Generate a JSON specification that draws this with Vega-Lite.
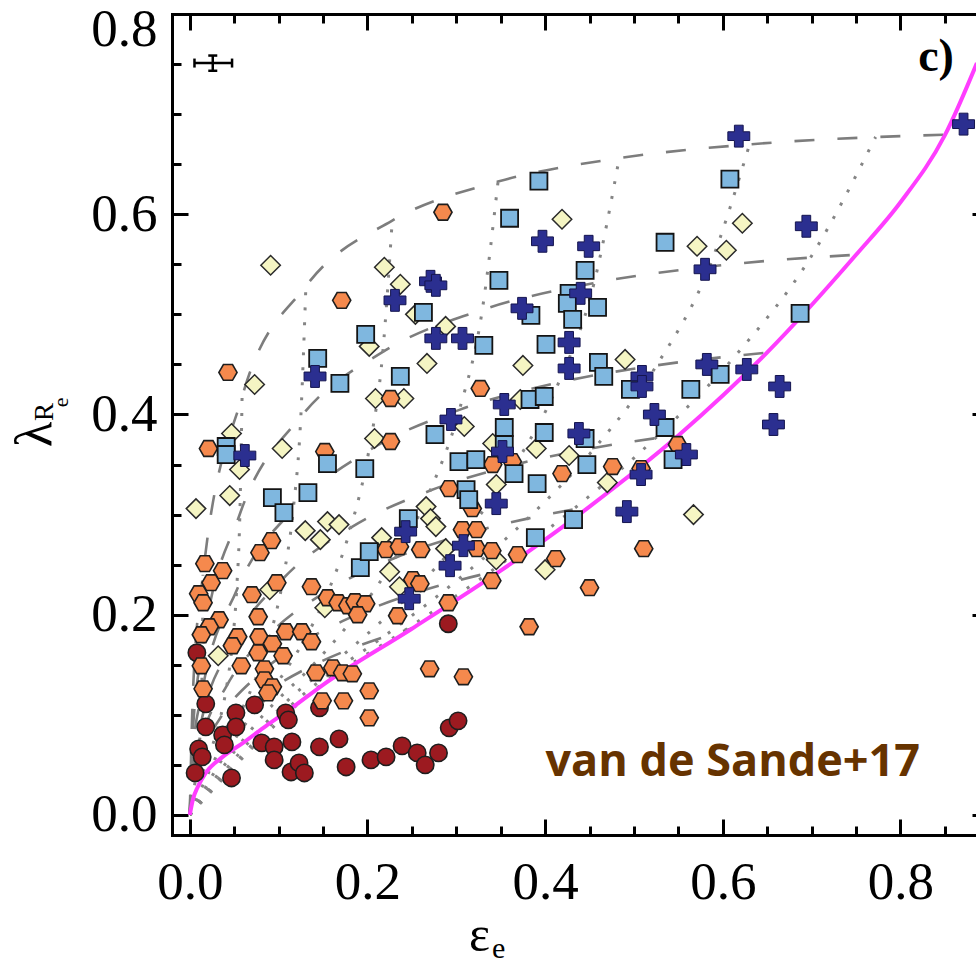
{
"$schema": "https://vega.github.io/schema/vega-lite/v6.json",
"width": 804, "height": 821,
"autosize": {"type": "none"},
"padding": {"left": 172, "top": 14, "right": 0, "bottom": 130},
"background": "white",
"config": {
  "view": {"stroke": null},
  "axis": {"domainColor": "black", "domainWidth": 3, "domainCap": "square", "tickColor": "black", "tickWidth": 3, "tickCap": "butt",
           "labelFont": "Liberation Serif", "labelFontSize": 53, "labelColor": "black", "grid": false,
           "labelOverlap": false, "labelFlush": false, "labelBound": false,
           "titleFont": "Liberation Serif", "titleFontWeight": "normal", "titleColor": "black"}
},
"datasets": {
  "dashed": [
    {"g":"85","e":0,"l":0},{"g":"85","e":0.0037,"l":0.1251},{"g":"85","e":0.0149,"l":0.24},{"g":"85","e":0.0589,"l":0.4177},{"g":"85","e":0.1307,"l":0.5282},{"g":"85","e":0.2279,"l":0.5937},{"g":"85","e":0.347,"l":0.6326},{"g":"85","e":0.4834,"l":0.656},{"g":"85","e":0.6301,"l":0.6698},{"g":"85","e":0.772,"l":0.6771},{"g":"85","e":0.85,"l":0.6794},
    {"g":"75","e":0,"l":0},{"g":"75","e":0.0036,"l":0.085},{"g":"75","e":0.0142,"l":0.165},{"g":"75","e":0.0564,"l":0.3006},{"g":"75","e":0.125,"l":0.3977},{"g":"75","e":0.2173,"l":0.4625},{"g":"75","e":0.3293,"l":0.5045},{"g":"75","e":0.4551,"l":0.5313},{"g":"75","e":0.5851,"l":0.5478},{"g":"75","e":0.6987,"l":0.5567},{"g":"75","e":0.75,"l":0.5595},
    {"g":"65","e":0,"l":0},{"g":"65","e":0.0033,"l":0.0613},{"g":"65","e":0.0133,"l":0.12},{"g":"65","e":0.0527,"l":0.2243},{"g":"65","e":0.1165,"l":0.3053},{"g":"65","e":0.2016,"l":0.364},{"g":"65","e":0.3035,"l":0.4046},{"g":"65","e":0.4153,"l":0.4319},{"g":"65","e":0.5255,"l":0.4491},{"g":"65","e":0.614,"l":0.4586},{"g":"65","e":0.65,"l":0.4617},
    {"g":"55","e":0,"l":0},{"g":"55","e":0.003,"l":0.0455},{"g":"55","e":0.0121,"l":0.0896},{"g":"55","e":0.0478,"l":0.1701},{"g":"55","e":0.1052,"l":0.2362},{"g":"55","e":0.1812,"l":0.2869},{"g":"55","e":0.2706,"l":0.324},{"g":"55","e":0.3661,"l":0.3499},{"g":"55","e":0.4561,"l":0.3668},{"g":"55","e":0.524,"l":0.3763},{"g":"55","e":0.55,"l":0.3793},
    {"g":"45","e":0,"l":0},{"g":"45","e":0.0027,"l":0.034},{"g":"45","e":0.0106,"l":0.0673},{"g":"45","e":0.0417,"l":0.1292},{"g":"45","e":0.0914,"l":0.1821},{"g":"45","e":0.1563,"l":0.2245},{"g":"45","e":0.2314,"l":0.2569},{"g":"45","e":0.3094,"l":0.2803},{"g":"45","e":0.3802,"l":0.296},{"g":"45","e":0.4312,"l":0.305},{"g":"45","e":0.45,"l":0.3079},
    {"g":"35","e":0,"l":0},{"g":"35","e":0.0022,"l":0.0253},{"g":"35","e":0.0087,"l":0.0501},{"g":"35","e":0.0344,"l":0.0969},{"g":"35","e":0.075,"l":0.1382},{"g":"35","e":0.1274,"l":0.1725},{"g":"35","e":0.1869,"l":0.1996},{"g":"35","e":0.2471,"l":0.2198},{"g":"35","e":0.3,"l":0.2337},{"g":"35","e":0.3367,"l":0.2418},{"g":"35","e":0.35,"l":0.2444},
    {"g":"25","e":0,"l":0},{"g":"25","e":0.0017,"l":0.0182},{"g":"25","e":0.0066,"l":0.0361},{"g":"25","e":0.0259,"l":0.0703},{"g":"25","e":0.0563,"l":0.1012},{"g":"25","e":0.0949,"l":0.1276},{"g":"25","e":0.1379,"l":0.1491},{"g":"25","e":0.1803,"l":0.1656},{"g":"25","e":0.2166,"l":0.1771},{"g":"25","e":0.2413,"l":0.184},{"g":"25","e":0.25,"l":0.1862}
  ],
  "dotted": [
    {"g":"i10","e":0,"l":0},{"g":"i10","e":0.0042,"l":0.024},{"g":"i10","e":0.0066,"l":0.0361},{"g":"i10","e":0.0087,"l":0.0501},{"g":"i10","e":0.0106,"l":0.0673},{"g":"i10","e":0.0121,"l":0.0896},{"g":"i10","e":0.0133,"l":0.12},{"g":"i10","e":0.0142,"l":0.165},{"g":"i10","e":0.0149,"l":0.24},
    {"g":"i20","e":0,"l":0},{"g":"i20","e":0.0164,"l":0.047},{"g":"i20","e":0.0259,"l":0.0703},{"g":"i20","e":0.0344,"l":0.0969},{"g":"i20","e":0.0417,"l":0.1292},{"g":"i20","e":0.0478,"l":0.1701},{"g":"i20","e":0.0527,"l":0.2243},{"g":"i20","e":0.0564,"l":0.3006},{"g":"i20","e":0.0589,"l":0.4177},
    {"g":"i30","e":0,"l":0},{"g":"i30","e":0.0353,"l":0.0681},{"g":"i30","e":0.0563,"l":0.1012},{"g":"i30","e":0.075,"l":0.1382},{"g":"i30","e":0.0914,"l":0.1821},{"g":"i30","e":0.1052,"l":0.2362},{"g":"i30","e":0.1165,"l":0.3053},{"g":"i30","e":0.125,"l":0.3977},{"g":"i30","e":0.1307,"l":0.5282},
    {"g":"i40","e":0,"l":0},{"g":"i40","e":0.0591,"l":0.0866},{"g":"i40","e":0.0949,"l":0.1276},{"g":"i40","e":0.1274,"l":0.1725},{"g":"i40","e":0.1563,"l":0.2245},{"g":"i40","e":0.1812,"l":0.2869},{"g":"i40","e":0.2016,"l":0.364},{"g":"i40","e":0.2173,"l":0.4625},{"g":"i40","e":0.2279,"l":0.5937},
    {"g":"i50","e":0,"l":0},{"g":"i50","e":0.085,"l":0.102},{"g":"i50","e":0.1379,"l":0.1491},{"g":"i50","e":0.1869,"l":0.1996},{"g":"i50","e":0.2314,"l":0.2569},{"g":"i50","e":0.2706,"l":0.324},{"g":"i50","e":0.3035,"l":0.4046},{"g":"i50","e":0.3293,"l":0.5045},{"g":"i50","e":0.347,"l":0.6326},
    {"g":"i60","e":0,"l":0},{"g":"i60","e":0.1101,"l":0.1142},{"g":"i60","e":0.1803,"l":0.1656},{"g":"i60","e":0.2471,"l":0.2198},{"g":"i60","e":0.3094,"l":0.2803},{"g":"i60","e":0.3661,"l":0.3499},{"g":"i60","e":0.4153,"l":0.4319},{"g":"i60","e":0.4551,"l":0.5313},{"g":"i60","e":0.4834,"l":0.656},
    {"g":"i70","e":0,"l":0},{"g":"i70","e":0.1311,"l":0.1229},{"g":"i70","e":0.2166,"l":0.1771},{"g":"i70","e":0.3,"l":0.2337},{"g":"i70","e":0.3802,"l":0.296},{"g":"i70","e":0.4561,"l":0.3668},{"g":"i70","e":0.5255,"l":0.4491},{"g":"i70","e":0.5851,"l":0.5478},{"g":"i70","e":0.6301,"l":0.6698},
    {"g":"i80","e":0,"l":0},{"g":"i80","e":0.1451,"l":0.1281},{"g":"i80","e":0.2413,"l":0.184},{"g":"i80","e":0.3367,"l":0.2418},{"g":"i80","e":0.4312,"l":0.305},{"g":"i80","e":0.524,"l":0.3763},{"g":"i80","e":0.614,"l":0.4586},{"g":"i80","e":0.6987,"l":0.5567},{"g":"i80","e":0.772,"l":0.6771}
  ],
  "magenta": [
    {"e":0,"l":0},{"e":0.0034,"l":0.015},{"e":0.009,"l":0.028},{"e":0.018,"l":0.042},{"e":0.037,"l":0.058},{"e":0.06,"l":0.072},{"e":0.086,"l":0.089},{"e":0.112,"l":0.105},{"e":0.15,"l":0.13},{"e":0.25,"l":0.186},{"e":0.35,"l":0.244},{"e":0.4,"l":0.275},{"e":0.45,"l":0.308},{"e":0.55,"l":0.379},{"e":0.65,"l":0.462},{"e":0.75,"l":0.5595},{"e":0.8,"l":0.612},{"e":0.85,"l":0.679},{"e":0.886,"l":0.751}
  ],
  "circles": [
    {"e":0.291,"l":0.191},{"e":0.008,"l":0.162},{"e":0.018,"l":0.111},{"e":0.018,"l":0.088},{"e":0.010,"l":0.066},{"e":0.014,"l":0.058},{"e":0.006,"l":0.042},{"e":0.037,"l":0.080},{"e":0.039,"l":0.070},{"e":0.052,"l":0.102},{"e":0.052,"l":0.088},{"e":0.047,"l":0.037},{"e":0.073,"l":0.110},{"e":0.081,"l":0.072},{"e":0.095,"l":0.068},{"e":0.095,"l":0.055},{"e":0.108,"l":0.102},{"e":0.111,"l":0.095},{"e":0.115,"l":0.073},{"e":0.114,"l":0.043},{"e":0.123,"l":0.052},{"e":0.129,"l":0.042},{"e":0.146,"l":0.068},{"e":0.146,"l":0.107},{"e":0.168,"l":0.076},{"e":0.176,"l":0.048},{"e":0.204,"l":0.055},{"e":0.221,"l":0.058},{"e":0.239,"l":0.069},{"e":0.256,"l":0.062},{"e":0.265,"l":0.050},{"e":0.280,"l":0.062},{"e":0.292,"l":0.087},{"e":0.302,"l":0.094}
  ],
  "diamonds": [
    {"e":0.091,"l":0.549},{"e":0.219,"l":0.547},{"e":0.237,"l":0.530},{"e":0.202,"l":0.468},{"e":0.288,"l":0.488},{"e":0.267,"l":0.451},{"e":0.073,"l":0.430},{"e":0.209,"l":0.416},{"e":0.241,"l":0.416},{"e":0.309,"l":0.388},{"e":0.047,"l":0.381},{"e":0.208,"l":0.376},{"e":0.056,"l":0.345},{"e":0.104,"l":0.366},{"e":0.254,"l":0.500},
    {"e":0.419,"l":0.595},{"e":0.571,"l":0.568},{"e":0.604,"l":0.564},{"e":0.622,"l":0.591},{"e":0.375,"l":0.449},{"e":0.490,"l":0.455},{"e":0.372,"l":0.415},{"e":0.341,"l":0.371},{"e":0.390,"l":0.366},{"e":0.427,"l":0.359},{"e":0.345,"l":0.330},{"e":0.470,"l":0.332},
    {"e":0.007,"l":0.306},{"e":0.045,"l":0.319},{"e":0.130,"l":0.284},{"e":0.147,"l":0.275},{"e":0.155,"l":0.293},{"e":0.168,"l":0.290},{"e":0.090,"l":0.225},{"e":0.152,"l":0.207},{"e":0.032,"l":0.159},{"e":0.236,"l":0.228},{"e":0.225,"l":0.243},{"e":0.216,"l":0.277},{"e":0.266,"l":0.308},{"e":0.271,"l":0.296},{"e":0.277,"l":0.288},{"e":0.288,"l":0.266},{"e":0.345,"l":0.255},
    {"e":0.567,"l":0.300},{"e":0.400,"l":0.245}
  ],
  "hexes": [
    {"e":0.285,"l":0.602},{"e":0.171,"l":0.514},{"e":0.043,"l":0.442},{"e":0.226,"l":0.416},{"e":0.226,"l":0.373},{"e":0.021,"l":0.366},{"e":0.152,"l":0.363},
    {"e":0.327,"l":0.426},{"e":0.549,"l":0.370},{"e":0.341,"l":0.350},{"e":0.363,"l":0.353},{"e":0.476,"l":0.348},{"e":0.508,"l":0.346},{"e":0.419,"l":0.341},
    {"e":0.092,"l":0.274},{"e":0.079,"l":0.262},{"e":0.017,"l":0.251},{"e":0.037,"l":0.244},{"e":0.024,"l":0.232},{"e":0.010,"l":0.221},{"e":0.015,"l":0.212},{"e":0.098,"l":0.232},{"e":0.070,"l":0.220},{"e":0.137,"l":0.228},{"e":0.155,"l":0.217},{"e":0.167,"l":0.212},{"e":0.178,"l":0.209},{"e":0.186,"l":0.213},{"e":0.198,"l":0.211},{"e":0.189,"l":0.200},{"e":0.033,"l":0.195},{"e":0.022,"l":0.188},{"e":0.013,"l":0.180},{"e":0.077,"l":0.198},{"e":0.054,"l":0.178},{"e":0.048,"l":0.169},{"e":0.078,"l":0.178},{"e":0.077,"l":0.162},{"e":0.093,"l":0.171},{"e":0.108,"l":0.183},{"e":0.126,"l":0.183},{"e":0.137,"l":0.173},{"e":0.105,"l":0.159},{"e":0.013,"l":0.149},{"e":0.058,"l":0.149},{"e":0.084,"l":0.146},{"e":0.084,"l":0.135},{"e":0.093,"l":0.128},{"e":0.088,"l":0.122},{"e":0.015,"l":0.126},{"e":0.142,"l":0.142},{"e":0.161,"l":0.147},{"e":0.172,"l":0.142},{"e":0.183,"l":0.141},{"e":0.202,"l":0.124},{"e":0.149,"l":0.114},{"e":0.173,"l":0.114},{"e":0.202,"l":0.097},{"e":0.270,"l":0.146},{"e":0.308,"l":0.138},{"e":0.291,"l":0.212},{"e":0.234,"l":0.199},{"e":0.340,"l":0.234},{"e":0.251,"l":0.235},{"e":0.259,"l":0.231},{"e":0.221,"l":0.265},{"e":0.236,"l":0.268},{"e":0.260,"l":0.265},{"e":0.292,"l":0.326},{"e":0.318,"l":0.306},{"e":0.307,"l":0.285},{"e":0.323,"l":0.285},{"e":0.323,"l":0.266},{"e":0.340,"l":0.264},
    {"e":0.511,"l":0.266},{"e":0.369,"l":0.260},{"e":0.412,"l":0.256},{"e":0.450,"l":0.227},{"e":0.382,"l":0.188}
  ],
  "squares": [
    {"e":0.263,"l":0.502},{"e":0.198,"l":0.480},{"e":0.144,"l":0.456},{"e":0.169,"l":0.431},{"e":0.237,"l":0.438},{"e":0.276,"l":0.380},{"e":0.041,"l":0.368},{"e":0.041,"l":0.360},{"e":0.155,"l":0.351},{"e":0.197,"l":0.346},{"e":0.303,"l":0.353},
    {"e":0.393,"l":0.633},{"e":0.608,"l":0.635},{"e":0.360,"l":0.596},{"e":0.535,"l":0.572},{"e":0.445,"l":0.544},{"e":0.348,"l":0.534},{"e":0.427,"l":0.521},{"e":0.425,"l":0.511},{"e":0.459,"l":0.507},{"e":0.384,"l":0.499},{"e":0.431,"l":0.495},{"e":0.331,"l":0.469},{"e":0.401,"l":0.470},{"e":0.460,"l":0.452},{"e":0.466,"l":0.438},{"e":0.496,"l":0.425},{"e":0.564,"l":0.425},{"e":0.597,"l":0.440},{"e":0.383,"l":0.415},{"e":0.399,"l":0.418},{"e":0.354,"l":0.387},{"e":0.399,"l":0.382},{"e":0.445,"l":0.376},{"e":0.535,"l":0.387},{"e":0.544,"l":0.355},{"e":0.354,"l":0.370},{"e":0.322,"l":0.355},{"e":0.365,"l":0.341},{"e":0.447,"l":0.350},
    {"e":0.687,"l":0.501},
    {"e":0.093,"l":0.317},{"e":0.106,"l":0.302},{"e":0.133,"l":0.322},{"e":0.192,"l":0.247},{"e":0.202,"l":0.263},{"e":0.246,"l":0.296},{"e":0.311,"l":0.325},{"e":0.314,"l":0.315},
    {"e":0.391,"l":0.331},{"e":0.432,"l":0.295},{"e":0.389,"l":0.277}
  ],
  "pluses": [
    {"e":0.271,"l":0.533},{"e":0.277,"l":0.529},{"e":0.231,"l":0.514},{"e":0.277,"l":0.476},{"e":0.307,"l":0.476},{"e":0.141,"l":0.438},{"e":0.294,"l":0.395},{"e":0.062,"l":0.359},
    {"e":0.397,"l":0.573},{"e":0.449,"l":0.568},{"e":0.580,"l":0.545},{"e":0.440,"l":0.521},{"e":0.374,"l":0.506},{"e":0.427,"l":0.472},{"e":0.427,"l":0.446},{"e":0.509,"l":0.438},{"e":0.509,"l":0.428},{"e":0.582,"l":0.450},{"e":0.627,"l":0.445},{"e":0.354,"l":0.410},{"e":0.438,"l":0.381},{"e":0.523,"l":0.400},{"e":0.559,"l":0.360},{"e":0.352,"l":0.363},{"e":0.508,"l":0.340},
    {"e":0.618,"l":0.678},{"e":0.694,"l":0.588},{"e":0.871,"l":0.690},{"e":0.664,"l":0.428},{"e":0.657,"l":0.390},
    {"e":0.247,"l":0.216},{"e":0.243,"l":0.283},{"e":0.345,"l":0.311},{"e":0.308,"l":0.269},{"e":0.293,"l":0.249},
    {"e":0.492,"l":0.303}
  ]
},
"encoding": {
  "x": {"field": "e", "type": "quantitative", "scale": {"domain": [-0.02, 0.885], "nice": false, "zero": false}, "axis": null},
  "y": {"field": "l", "type": "quantitative", "scale": {"domain": [-0.02, 0.8], "nice": false, "zero": false}, "axis": null}
},
"resolve": {"axis": {"x": "independent", "y": "independent"}},
"layer": [
  {
    "data": {"name": "dashed"},
    "mark": {"type": "line", "stroke": "#7d7d7d", "strokeWidth": 2.6, "strokeDash": [20, 23], "interpolate": "monotone", "clip": true},
    "encoding": {
      "x": {"field": "e", "type": "quantitative", "scale": {"domain": [-0.02, 0.885], "nice": false, "zero": false},
            "axis": {"orient": "bottom", "values": [0,0.05,0.1,0.15,0.2,0.25,0.3,0.35,0.4,0.45,0.5,0.55,0.6,0.65,0.7,0.75,0.8,0.85],
                     "tickSize": {"condition": {"test": "abs(datum.value*5-round(datum.value*5))<0.01", "value": -16}, "value": -9},
                     "labelExpr": "abs(datum.value*5-round(datum.value*5))<0.01 ? format(datum.value,'.1f') : ''",
                     "labelBaseline": "alphabetic", "labelPadding": 79,
                     "title": "ε", "titleFontSize": 50, "titleX": 307, "titleY": 115, "titleBaseline": "alphabetic", "titleAlign": "center", "titleAngle": 0}},
      "y": {"field": "l", "type": "quantitative", "scale": {"domain": [-0.02, 0.8], "nice": false, "zero": false},
            "axis": {"orient": "left", "values": [0,0.05,0.1,0.15,0.2,0.25,0.3,0.35,0.4,0.45,0.5,0.55,0.6,0.65,0.7,0.75,0.8],
                     "tickSize": {"condition": {"test": "abs(datum.value*5-round(datum.value*5))<0.01", "value": -16}, "value": -9},
                     "labelExpr": "abs(datum.value*5-round(datum.value*5))<0.01 ? format(datum.value,'.1f') : ''",
                     "labelAlign": "right", "labelBaseline": "middle", "labelPadding": 31,
                     "labelOffset": {"condition": {"test": "datum.value > 0.79", "value": 15}, "value": 0},
                     "title": "λ", "titleFontSize": 52, "titleAngle": 270, "titleX": -122, "titleY": 420, "titleBaseline": "alphabetic", "titleAlign": "center"}},
      "detail": {"field": "g", "type": "nominal"}
    }
  },
  {
    "data": {"name": "dotted"},
    "mark": {"type": "line", "stroke": "#858585", "strokeWidth": 3, "strokeDash": [3, 12], "strokeCap": "butt", "interpolate": "monotone", "clip": true},
    "encoding": {
      "x": {"field": "e", "type": "quantitative", "scale": {"domain": [-0.02, 0.885], "nice": false, "zero": false},
            "axis": {"orient": "top", "values": [0,0.05,0.1,0.15,0.2,0.25,0.3,0.35,0.4,0.45,0.5,0.55,0.6,0.65,0.7,0.75,0.8,0.85],
                     "tickSize": {"condition": {"test": "abs(datum.value*5-round(datum.value*5))<0.01", "value": -16}, "value": -9},
                     "labels": false, "title": null}},
      "y": {"field": "l", "type": "quantitative", "scale": {"domain": [-0.02, 0.8], "nice": false, "zero": false},
            "axis": {"orient": "right", "values": [0,0.2,0.4,0.6], "tickSize": -16, "offset": 12, "domain": false, "labels": false, "title": null}},
      "detail": {"field": "g", "type": "nominal"}
    }
  },
  {
    "data": {"name": "magenta"},
    "mark": {"type": "line", "stroke": "#ff3dff", "strokeWidth": 4, "interpolate": "monotone", "clip": true},
    "encoding": {}
  },
  {
    "data": {"values": [{"e": 0.0053, "e2": 0.0476, "l": 0.751}]},
    "mark": {"type": "rule", "stroke": "black", "strokeWidth": 2.5},
    "encoding": {"x2": {"field": "e2"}}
  },
  {
    "data": {"values": [{"e": 0.0259, "l": 0.7433, "l2": 0.7585}]},
    "mark": {"type": "rule", "stroke": "black", "strokeWidth": 2.5},
    "encoding": {"y2": {"field": "l2"}}
  },
  {
    "data": {"values": [{"e": 0.0053, "l": 0.751}, {"e": 0.0476, "l": 0.751}]},
    "mark": {"type": "tick", "orient": "vertical", "color": "black", "size": 9, "thickness": 2.5, "opacity": 1},
    "encoding": {}
  },
  {
    "data": {"values": [{"e": 0.0259, "l": 0.7433}, {"e": 0.0259, "l": 0.7585}]},
    "mark": {"type": "tick", "orient": "horizontal", "color": "black", "size": 9, "thickness": 2.5, "opacity": 1},
    "encoding": {}
  },
  {
    "data": {"name": "circles"},
    "mark": {"type": "point", "shape": "circle", "size": 300, "filled": true, "fill": "#9c1a20", "stroke": "#1e1e1e", "strokeWidth": 1.6, "opacity": 1}
  },
  {
    "data": {"name": "diamonds"},
    "mark": {"type": "point", "shape": "diamond", "size": 380, "filled": true, "fill": "#f5f5c3", "stroke": "#2a2a2a", "strokeWidth": 1.5, "opacity": 1}
  },
  {
    "data": {"name": "hexes"},
    "mark": {"type": "point", "shape": "M-1,0L-0.5,-0.866L0.5,-0.866L1,0L0.5,0.866L-0.5,0.866Z", "size": 330, "filled": true, "fill": "#f5894d", "stroke": "#1e1e1e", "strokeWidth": 1.6, "opacity": 1}
  },
  {
    "data": {"name": "squares"},
    "mark": {"type": "point", "shape": "square", "size": 290, "filled": true, "fill": "#7fb7df", "stroke": "#141414", "strokeWidth": 1.8, "opacity": 1}
  },
  {
    "data": {"name": "pluses"},
    "mark": {"type": "point", "shape": "cross", "size": 480, "filled": true, "fill": "#2b2f90", "stroke": "#15154f", "strokeWidth": 1, "opacity": 1}
  },
  {
    "data": {"values": [{"t": "c)", "e": 0.84, "l": 0.743}]},
    "mark": {"type": "text", "font": "Liberation Serif", "fontSize": 46, "fontWeight": "bold", "align": "center", "baseline": "alphabetic", "fill": "black"},
    "encoding": {"text": {"field": "t", "type": "nominal"}}
  },
  {
    "data": {"values": [{"t": "van de Sande+17", "e": 0.822, "l": 0.039}]},
    "mark": {"type": "text", "font": "Open Sans", "fontSize": 45, "fontWeight": "bold", "align": "right", "baseline": "alphabetic", "fill": "#663300"},
    "encoding": {"text": {"field": "t", "type": "nominal"}}
  },
  {
    "data": {"values": [{"t": "e", "e": 0.3476, "l": -0.143}]},
    "mark": {"type": "text", "font": "Liberation Serif", "fontSize": 30, "align": "center", "baseline": "alphabetic", "fill": "black"},
    "encoding": {"text": {"field": "t", "type": "nominal"}}
  },
  {
    "data": {"values": [{"t": "R", "e": -0.1541, "l": 0.4026}]},
    "mark": {"type": "text", "font": "Liberation Serif", "fontSize": 27, "align": "center", "baseline": "alphabetic", "angle": 270, "fill": "black"},
    "encoding": {"text": {"field": "t", "type": "nominal"}}
  },
  {
    "data": {"values": [{"t": "e", "e": -0.1372, "l": 0.412}]},
    "mark": {"type": "text", "font": "Liberation Serif", "fontSize": 22, "align": "center", "baseline": "alphabetic", "angle": 270, "fill": "black"},
    "encoding": {"text": {"field": "t", "type": "nominal"}}
  }
]
}
